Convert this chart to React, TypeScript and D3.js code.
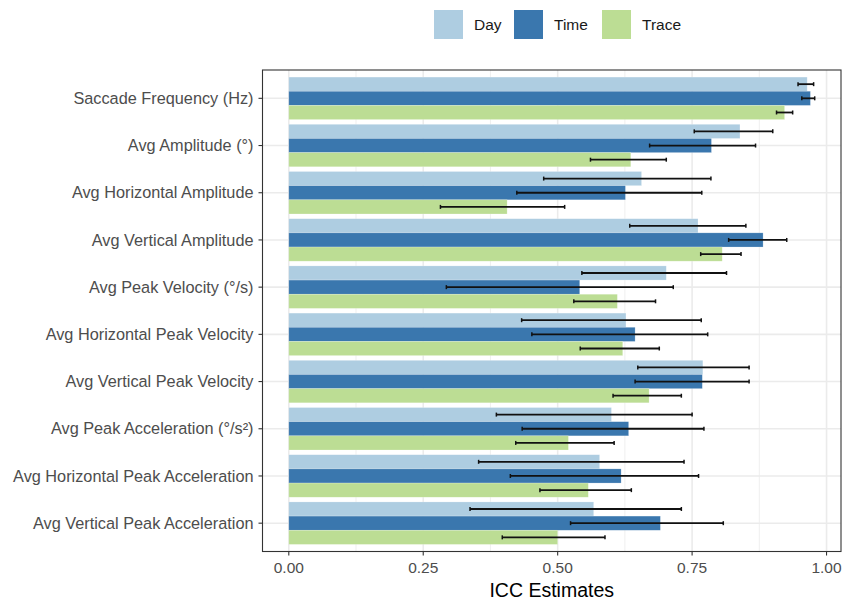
import React from "react";
import * as d3 from "d3";

const categories = [
  "Saccade Frequency (Hz)",
  "Avg Amplitude (°)",
  "Avg Horizontal Amplitude",
  "Avg Vertical Amplitude",
  "Avg Peak Velocity (°/s)",
  "Avg Horizontal Peak Velocity",
  "Avg Vertical Peak Velocity",
  "Avg Peak Acceleration (°/s²)",
  "Avg Horizontal Peak Acceleration",
  "Avg Vertical Peak Acceleration",
];

const seriesNames = ["Day", "Time", "Trace"];
const seriesColors = ["#aecde1", "#3a77ae", "#bcdd94"];

const dayEst = [0.964, 0.839, 0.656, 0.761, 0.702, 0.627, 0.770, 0.600, 0.578, 0.567];
const dayLow = [0.947, 0.754, 0.474, 0.634, 0.545, 0.433, 0.649, 0.386, 0.353, 0.337];
const dayHigh = [0.976, 0.900, 0.785, 0.850, 0.814, 0.767, 0.856, 0.750, 0.735, 0.730];

const timeEst = [0.970, 0.786, 0.626, 0.882, 0.541, 0.644, 0.769, 0.632, 0.618, 0.691];
const timeLow = [0.954, 0.671, 0.424, 0.818, 0.293, 0.452, 0.644, 0.434, 0.412, 0.524];
const timeHigh = [0.978, 0.868, 0.768, 0.926, 0.715, 0.779, 0.856, 0.772, 0.762, 0.808];

const traceEst = [0.922, 0.636, 0.406, 0.806, 0.611, 0.621, 0.670, 0.520, 0.557, 0.500];
const traceLow = [0.907, 0.561, 0.282, 0.766, 0.530, 0.542, 0.603, 0.422, 0.467, 0.397];
const traceHigh = [0.937, 0.702, 0.513, 0.841, 0.682, 0.689, 0.730, 0.605, 0.637, 0.588];

const xTicks = [0, 0.25, 0.5, 0.75, 1.0];
const xMinor = [0.125, 0.375, 0.625, 0.875];

const FONT = "'Liberation Sans', Arial, Helvetica, sans-serif";

export default function App() {
  const W = 844;
  const H = 603;
  const panel = { left: 262.5, right: 841, top: 70, bottom: 551.5 };

  const est = [dayEst, timeEst, traceEst];
  const low = [dayLow, timeLow, traceLow];
  const high = [dayHigh, timeHigh, traceHigh];

  const maxV = d3.max(high.flat()) as number;
  const pad = maxV * 0.05;
  const x = d3.scaleLinear().domain([-pad, maxV + pad]).range([panel.left, panel.right]);

  const y = d3
    .scaleBand<string>()
    .domain(categories)
    .range([panel.top, panel.bottom])
    .paddingInner(0)
    .paddingOuter(0.1);
  const step = y.step();
  const barH = step * 0.3;

  const yc = (c: string) => (y(c) as number) + y.bandwidth() / 2;

  const legendX = [434, 514, 602];

  return (
    <svg
      width={W}
      height={H}
      style={{ position: "absolute", left: 0, top: 0, background: "#fff" }}
      fontFamily={FONT}
    >
      <rect x={0} y={0} width={W} height={H} fill="#fff" />
      {seriesNames.map((s, i) => (
        <g key={s}>
          <rect x={legendX[i]} y={10} width={29} height={29} fill={seriesColors[i]} />
          <text x={legendX[i] + 40} y={24.5} dy="0.35em" fontSize={15.5} fill="#1a1a1a">
            {s}
          </text>
        </g>
      ))}
      {xMinor.map((t) => (
        <line key={"mn" + t} x1={x(t)} x2={x(t)} y1={panel.top} y2={panel.bottom} stroke="#ebebeb" strokeWidth={0.8} />
      ))}
      {xTicks.map((t) => (
        <line key={"mj" + t} x1={x(t)} x2={x(t)} y1={panel.top} y2={panel.bottom} stroke="#ebebeb" strokeWidth={1.6} />
      ))}
      {categories.map((c) => (
        <line key={"hg" + c} x1={panel.left} x2={panel.right} y1={yc(c)} y2={yc(c)} stroke="#ebebeb" strokeWidth={1.6} />
      ))}
      {categories.map((c, ci) =>
        seriesNames.map((s, si) => {
          const cy = yc(c) + (si - 1) * barH;
          return (
            <rect
              key={c + s}
              x={x(0)}
              y={cy - barH / 2}
              width={x(est[si][ci]) - x(0)}
              height={barH}
              fill={seriesColors[si]}
              stroke="#ffffff"
              strokeOpacity={0.35}
              strokeWidth={0.6}
            />
          );
        })
      )}
      {categories.map((c, ci) =>
        seriesNames.map((s, si) => {
          const cy = yc(c) + (si - 1) * barH;
          const x1 = x(low[si][ci]);
          const x2 = x(high[si][ci]);
          return (
            <g key={"e" + c + s} stroke="#111" strokeWidth={1.8}>
              <line x1={x1} x2={x2} y1={cy} y2={cy} />
              <line x1={x1} x2={x1} y1={cy - 2} y2={cy + 2} strokeWidth={1.5} />
              <line x1={x2} x2={x2} y1={cy - 2} y2={cy + 2} strokeWidth={1.5} />
            </g>
          );
        })
      )}
      <rect
        x={panel.left}
        y={panel.top}
        width={panel.right - panel.left}
        height={panel.bottom - panel.top}
        fill="none"
        stroke="#333"
        strokeWidth={1.1}
      />
      {categories.map((c) => (
        <g key={"yl" + c}>
          <line x1={panel.left - 4} x2={panel.left} y1={yc(c)} y2={yc(c)} stroke="#333" strokeWidth={1.1} />
          <text x={panel.left - 9} y={yc(c)} dy="0.35em" textAnchor="end" fontSize={16.3} fill="#4d4d4d">
            {c}
          </text>
        </g>
      ))}
      {xTicks.map((t) => (
        <g key={"xl" + t}>
          <line x1={x(t)} x2={x(t)} y1={panel.bottom} y2={panel.bottom + 4} stroke="#333" strokeWidth={1.1} />
          <text x={x(t)} y={panel.bottom + 16} dy="0.35em" textAnchor="middle" fontSize={15.5} fill="#4d4d4d">
            {d3.format(".2f")(t)}
          </text>
        </g>
      ))}
      <text x={(panel.left + panel.right) / 2} y={597} textAnchor="middle" fontSize={19.5} fill="#000">
        ICC Estimates
      </text>
    </svg>
  );
}
